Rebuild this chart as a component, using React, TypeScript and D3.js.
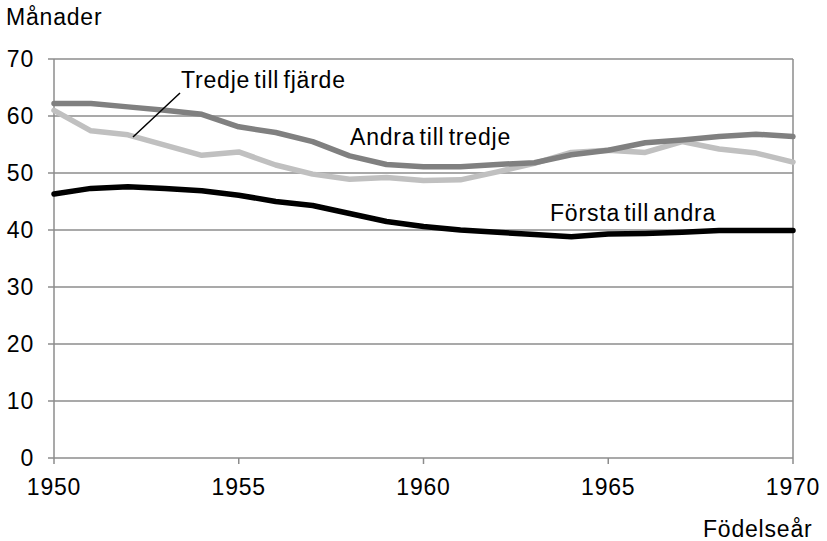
import React from "react";
import * as d3 from "d3";

const years = d3.range(1950, 1971);
const forstaTillAndra = [46.3, 47.3, 47.6, 47.3, 46.9, 46.1, 45.0, 44.3, 42.9, 41.5, 40.6, 40.0, 39.6, 39.2, 38.8, 39.3, 39.4, 39.6, 39.9, 39.9, 39.9];
const andraTillTredje = [62.2, 62.2, 61.6, 61.0, 60.3, 58.1, 57.1, 55.5, 53.0, 51.5, 51.1, 51.1, 51.5, 51.8, 53.2, 54.0, 55.3, 55.8, 56.4, 56.8, 56.4];
const tredjeTillFjarde = [61.0, 57.4, 56.7, 54.9, 53.1, 53.7, 51.4, 49.8, 48.9, 49.2, 48.7, 48.8, 50.2, 51.7, 53.6, 54.0, 53.6, 55.5, 54.2, 53.5, 51.9];
const yTicks = [0, 10, 20, 30, 40, 50, 60, 70];
const xTicks = [1950, 1955, 1960, 1965, 1970];

const W = 827;
const H = 541;
const left = 54;
const right = 793;
const top = 59;
const bottom = 458;
const font = "'Liberation Sans', Arial, sans-serif";
const textStyle = { letterSpacing: "0.8px", wordSpacing: "-3px" } as React.CSSProperties;

export default function App() {
  const x = d3.scaleLinear().domain([1950, 1970]).range([left, right]);
  const y = d3.scaleLinear().domain([0, 70]).range([bottom, top]);
  const line = d3
    .line<number>()
    .x((_, i) => x(years[i]))
    .y((d) => y(d))
    .curve(d3.curveLinear);

  const series = [
    { data: tredjeTillFjarde, color: "#c0c0c0" },
    { data: andraTillTredje, color: "#808080" },
    { data: forstaTillAndra, color: "#000000" },
  ];

  return (
    <svg
      width={W}
      height={H}
      style={{ position: "absolute", left: 0, top: 0, background: "#fff" }}
      fontFamily={font}
      fontSize={23}
    >
      {yTicks.map((t) => (
        <g key={t}>
          <line x1={left - 6} x2={right} y1={y(t)} y2={y(t)} stroke="#8c8c8c" strokeWidth={1.5} />
          <text x={34} y={y(t) + 8} textAnchor="end" fill="#000" style={textStyle}>
            {t}
          </text>
        </g>
      ))}
      <line x1={left} x2={left} y1={top} y2={bottom} stroke="#8c8c8c" strokeWidth={1.5} />
      <line x1={right} x2={right} y1={top} y2={bottom} stroke="#8c8c8c" strokeWidth={1.5} />
      {xTicks.map((t) => (
        <g key={t}>
          <line x1={x(t)} x2={x(t)} y1={bottom} y2={bottom + 6} stroke="#8c8c8c" strokeWidth={1.5} />
          <text x={x(t)} y={495} textAnchor="middle" fill="#000" style={textStyle}>
            {t}
          </text>
        </g>
      ))}
      {series.map((s, i) => (
        <path
          key={i}
          d={line(s.data) || ""}
          fill="none"
          stroke={s.color}
          strokeWidth={5.5}
          strokeLinejoin="round"
          strokeLinecap="round"
        />
      ))}
      <line x1={180} y1={93} x2={133} y2={137} stroke="#000" strokeWidth={1.5} />
      <text x={181} y={88} fill="#000" style={textStyle}>Tredje till fjärde</text>
      <text x={350} y={145} fill="#000" style={textStyle}>Andra till tredje</text>
      <text x={550} y={221} fill="#000" style={textStyle}>Första till andra</text>
      <text x={6} y={25} fill="#000" style={textStyle}>Månader</text>
      <text x={703} y={537} fill="#000" style={textStyle}>Födelseår</text>
    </svg>
  );
}
